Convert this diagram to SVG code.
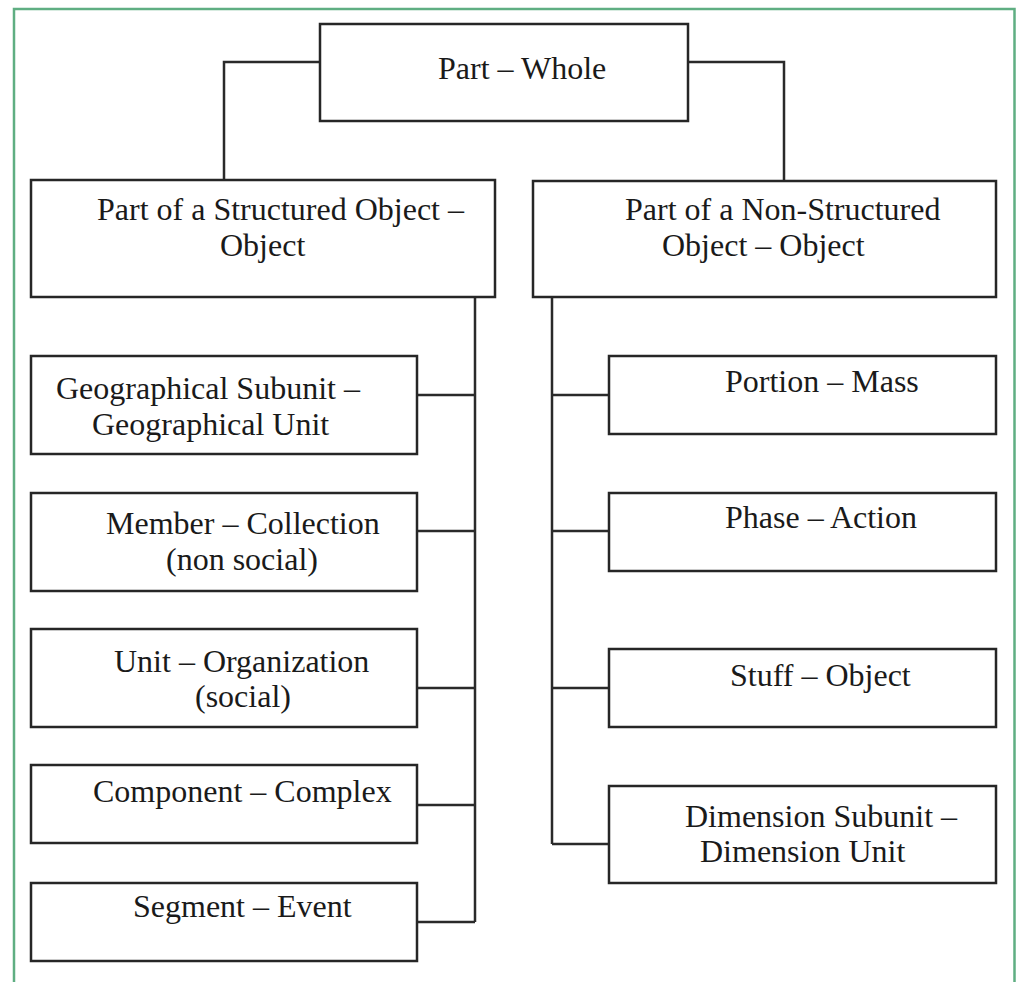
<svg xmlns="http://www.w3.org/2000/svg" width="1019" height="982" viewBox="0 0 1019 982">
<style>
.box{fill:#fff;stroke:#262626;stroke-width:2.5}
.ln{fill:none;stroke:#2a2a2a;stroke-width:2.5}
text{font-family:"Liberation Serif","Times New Roman",serif;font-size:32px;fill:#1a1a1a}
</style>
<rect x="0" y="0" width="1019" height="982" fill="#fff"/>
<path d="M14,982 V9 H1014.5 V982" fill="none" stroke="#5fae82" stroke-width="2.5"/>
<g id="connectors">
<path class="ln" d="M320,62 H224 V180"/>
<path class="ln" d="M688,62 H784 V181"/>
<path class="ln" d="M475,297 V922"/>
<path class="ln" d="M417,395 H475 M417,531 H475 M417,688 H475 M417,805 H475 M417,922 H475"/>
<path class="ln" d="M552,297 V844"/>
<path class="ln" d="M552,395 H609 M552,531 H609 M552,688 H609 M552,844 H609"/>
</g>
<g id="n-root"><rect class="box" x="320" y="24" width="368" height="97"/><text x="438" y="79">Part – Whole</text></g>
<g id="n-structured"><rect class="box" x="31" y="180" width="464" height="117"/><text x="97" y="220">Part of a Structured Object –</text><text x="220" y="255.5">Object</text></g>
<g id="n-nonstructured"><rect class="box" x="533" y="181" width="463" height="116"/><text x="625" y="220">Part of a Non-Structured</text><text x="662" y="255.5">Object – Object</text></g>
<g id="n-geo"><rect class="box" x="31" y="356" width="386" height="98"/><text x="56" y="399">Geographical Subunit –</text><text x="92" y="434.5">Geographical Unit</text></g>
<g id="n-member"><rect class="box" x="31" y="493" width="386" height="98"/><text x="106" y="534">Member – Collection</text><text x="166" y="569.5">(non social)</text></g>
<g id="n-unit"><rect class="box" x="31" y="629" width="386" height="98"/><text x="114" y="671.5">Unit – Organization</text><text x="195" y="707">(social)</text></g>
<g id="n-component"><rect class="box" x="31" y="765" width="386" height="78"/><text x="93" y="802">Component – Complex</text></g>
<g id="n-segment"><rect class="box" x="31" y="883" width="386" height="78"/><text x="133" y="917">Segment – Event</text></g>
<g id="n-portion"><rect class="box" x="609" y="356" width="387" height="78"/><text x="725" y="392">Portion – Mass</text></g>
<g id="n-phase"><rect class="box" x="609" y="493" width="387" height="78"/><text x="725" y="528">Phase – Action</text></g>
<g id="n-stuff"><rect class="box" x="609" y="649" width="387" height="78"/><text x="730" y="686">Stuff – Object</text></g>
<g id="n-dimension"><rect class="box" x="609" y="786" width="387" height="97"/><text x="685" y="826.5">Dimension Subunit –</text><text x="700" y="862">Dimension Unit</text></g>
</svg>
